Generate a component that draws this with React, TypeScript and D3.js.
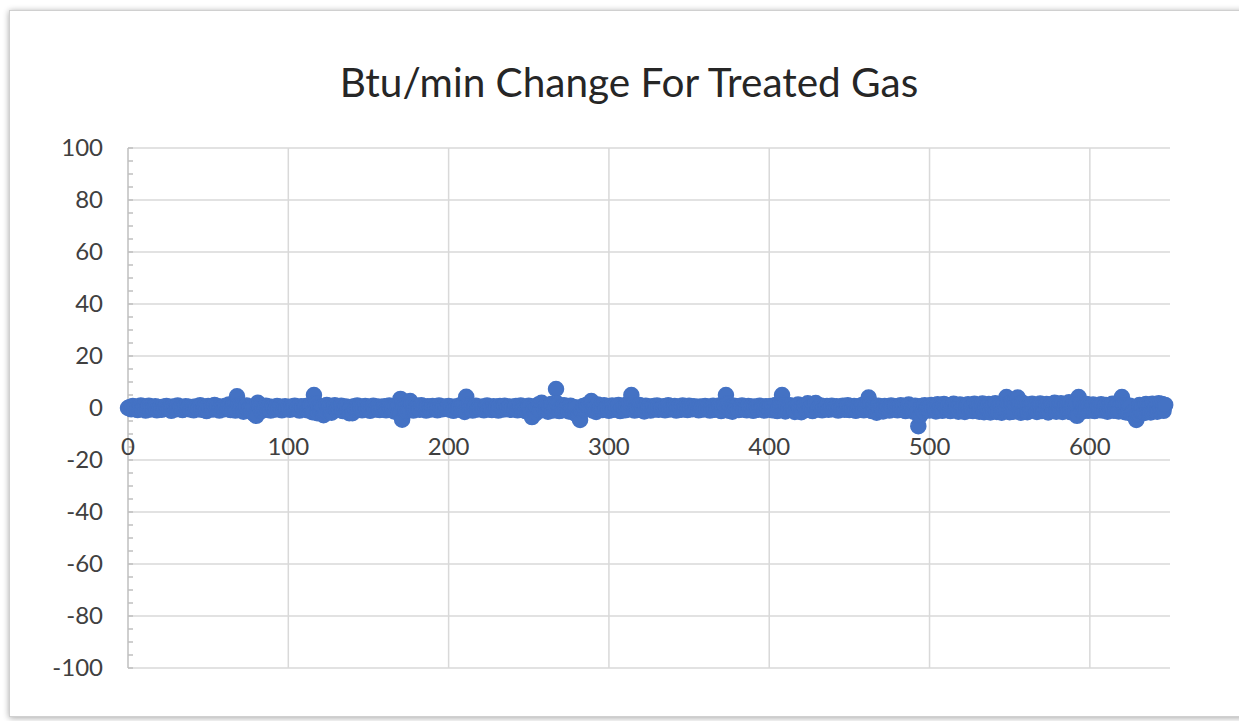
import React from "react";
import * as d3 from "d3";

const TITLE = "Btu/min Change For Treated Gas";
const X_TICKS = [0, 100, 200, 300, 400, 500, 600];
const Y_TICKS = [100, 80, 60, 40, 20, 0, -20, -40, -60, -80, -100];
const X_DOMAIN = [0, 650];
const Y_DOMAIN = [-100, 100];

// Btu/min change, one value per sample (x = index)
const VALUES: number[] = [
  0, 0.3, -0.5, 0.8, -0.2, 0.5, -0.8, 0.2, 1, -0.4, 0.6, -1, 0.3, 0.9, -0.6, 0.1, -0.3, 0.7, -0.9, 0.4,
  0.2, -0.7, 0.5, -0.1, 0.8, -0.4, 0.3, -1.1, 0.6, 0, -0.5, 1, -0.2, 0.4, -0.8, 0.1, 0.7, -0.3, 0.5, -0.6,
  0.3, -0.9, 0.6, 0.1, -0.4, 1.1, -0.7, 0.2, 0.5, -1.2, 0.8, -0.1, 0.4, -0.6, 1.2, -0.3, 0.7, -1, 0.5, 0.2,
  -0.5, 0.9, -0.2, 1.3, -0.8, 0.6, 1.5, -1, 4.5, 1.2, -0.6, 0.8, -1.4, 0.3, 1, -0.7, 0.4, -1.5, 0.2, -2.5,
  -3, 2, 1, -1.2, 0.5, -0.8, 0.9, -0.3, 0.6, -1, 0.4, 0.1, -0.6, 0.8, -0.2, 0.5, -0.9, 0.3, 0.7, -0.4,
  0.2, -0.7, 0.6, -0.1, 0.9, -0.5, 0.3, -1, 0.7, 0, -0.4, 0.8, -0.9, 0.5, 1, -1.6, 5, 1.8, -2, 0.6,
  -1, 0.4, -2.8, -1.5, 1.2, -0.6, 0.8, -1.8, 0.3, 1.1, -0.7, 0.5, -0.2, 0.9, -1.2, 0.4, 0.6, -0.8, -2, 0.2,
  -2, 0.7, -0.5, 1, -0.3, 0.6, -0.9, 0.2, 0.8, -0.4, 0.5, -1.1, 0.3, 0.9, -0.6, 0.1, 0.6, -0.8, 0.4, -0.2,
  0.7, -0.9, 0.3, 1, -0.5, 0.6, -1.3, 0.9, 1.2, -2, 3.5, -4.5, 0.5, -1.5, 1.4, -0.8, 2.7, 1.5, -1, 0.6,
  -0.4, 0.9, -0.7, 1.1, -0.2, 0.5, -1, 0.7, 0.2, -0.6, 0.8, -0.3, 0.4, -0.9, 1, 0.1, -0.5, 0.6, -0.2, 0.3,
  0.8, -0.7, 0.4, -1.1, 0.6, 0, -0.4, 1, -0.8, 1.6, -1.5, 4.3, 1.2, -0.5, 0.7, -1, 0.3, 0.9, -0.6, 0.2,
  -0.3, 0.6, -0.9, 0.4, 1, -0.5, 0.2, -0.8, 0.7, -0.1, 0.5, -1, 0.8, 0.3, -0.6, 0.9, -0.4, 0.1, 0.6, -0.7,
  0.4, -0.2, 0.8, -0.9, 0.3, 1, -0.6, 0.5, -1.2, 0.2, 0.9, -1.8, -3.5, 0.6, -2.2, 0.4, 1.3, -1, 2, 0.7,
  -0.8, 1.1, -1.4, 0.5, 1.5, -1, 0.8, 7.3, 1.6, -1.2, 0.4, -0.9, 1.1, -0.5, 0.6, -1.3, 0.9, -0.2, -1.8, 0.3,
  -2.5, -3.2, -4.6, -1, 0.8, -0.6, 1.2, 0.5, 1.8, 2.7, -1, 0.7, -1.5, 1.3, -0.4, 0.9, -0.8, 1.1, -0.2, 0.6,
  -1.1, 0.4, 1, -0.7, 0.8, -0.3, 1.2, -1.2, 0.5, 0.2, -0.9, 1.3, -0.6, 1.8, 5, 1.6, -1, 0.7, -0.4, 1.2,
  -0.8, 0.5, -1.3, 0.9, -0.2, 0.6, -1, 0.3, 0.8, -0.5, 1, -0.7, 0.4, -0.1, 0.7, -0.9, 0.5, 1.1, -0.6, 0.2,
  -0.4, 0.8, -1, 0.3, 0.6, -0.7, 1, -0.2, 0.5, -0.8, 0.9, 0.1, -0.5, 0.7, -0.3, 0.4, -0.9, 0.6, 0.2, -0.6,
  0.8, -0.4, 0.5, -1, 0.3, 0.9, -0.7, 0.6, -0.2, 1, -1.2, 0.7, 1.5, 5, 1.8, -1.1, 0.6, -1.4, 0.9, -0.3,
  0.7, -0.8, 0.4, 1, -0.6, 0.2, -0.9, 0.8, -0.3, 0.5, -1.1, 0.6, 0.1, -0.7, 0.9, -0.2, 0.4, -1, 0.7, 0.3,
  -0.5, 0.8, -0.9, 0.4, 1.2, -1.2, 0.6, 1.7, 5, 1.5, -1.3, 0.7, -0.6, 1.1, -0.4, 0.5, -1.5, 0.8, 1.3, -0.2,
  -1.6, 0.6, 0.9, -0.8, 1.8, -0.3, 0.4, -1.2, 0.7, 1.9, -0.6, 0.3, 1, -0.9, 0.5, -0.2, 0.8, -0.7, 0.4, 0.9,
  -0.5, 0.2, 0.7, -1, 0.5, -0.3, 0.9, -0.7, 0.4, 1.1, -0.8, 0.3, -0.4, 0.8, -1.1, 0.6, 0.1, -0.6, 1.2, -0.9,
  0.5, 1.6, 4, 1.3, -1.2, 0.7, -0.4, -1.8, 0.9, -0.6, 0.3, -1.3, 0.8, -0.2, 0.6, -1, 1, 0.2, -0.5, 0.7,
  -0.9, 0.4, 1.1, -0.3, 0.8, -1.2, 0.5, 1.3, -0.7, 0.2, -1.4, 0.9, -1.8, -7, -3, 0.8, -1.5, 1.1, -0.6, 0.5,
  -1, 1.2, -0.4, 0.7, -1.3, 1.4, -0.2, 0.9, -1.1, 1.5, 0.3, -0.8, 1.1, -1.2, 0.6, 1.6, -0.5, 0.8, -1.4, 1.3,
  -0.3, 1, -1.5, 0.7, 1.4, -0.9, 0.4, -1.2, 1.6, -0.6, 1.1, -1.4, 0.5, 1.7, -1.6, 0.9, -0.4, 1.5, -1.7, 1.2,
  -1, 1.8, -1.5, 0.8, 1.4, -1.8, 2, -1.2, 4.2, 1.5, -1.6, 2.2, -1.4, 1.8, 3.5, 4, 1.6, -1.8, 2, -1.3,
  1.4, -1.6, 0.9, -1.1, 1.6, -0.7, 1.2, -1.5, 0.8, 1.7, -1.2, 1, -0.6, 1.5, -1.7, 0.9, 1.3, -1, 2, -1.4,
  1.2, -0.8, 1.8, -1.5, 0.7, 1.4, -1.2, 2.2, -1.6, 1, -1.3, 1.8, -3, 4.2, 1.9, -1.4, 1.1, -0.9, 1.5, -1.1,
  0.8, -0.6, 1.3, -1.2, 0.5, 1, -0.8, 1.4, -1, 0.6, 1.2, -1.4, 0.9, -0.5, 1.6, -1.1, 0.7, 1.8, -1.3, 2,
  4.2, 1.5, -1.6, 1.1, -1.8, 0.9, -2.2, -1.4, -3.2, -4.6, -2.6, 1.2, -1.5, 0.8, -1.9, 1.5, -1.2, 1, -1.7, 1.6,
  -1, 1.3, -1.4, 1.8, -0.8, 1.5, -1.1, 1.2,
];

const W = 1239;
const H = 721;
const M = { left: 128, right: 1170, top: 148, bottom: 668 };
const FONT = "Lato, 'Open Sans', sans-serif";

export default function App() {
  const x = d3.scaleLinear().domain(X_DOMAIN).range([M.left, M.right]);
  const y = d3.scaleLinear().domain(Y_DOMAIN).range([M.bottom, M.top]);
  const minor = d3.range(Y_DOMAIN[0], Y_DOMAIN[1] + 0.001, 5);
  const data = VALUES.map((v, i) => ({ x: i, y: v }));

  return (
    <div style={{ position: "absolute", left: 0, top: 0 }}>
      <svg width={W} height={H} style={{ display: "block" }}>
        <defs>
          <filter id="sh" x="-5%" y="-5%" width="110%" height="110%">
            <feGaussianBlur in="SourceAlpha" stdDeviation="3" />
            <feOffset dx="0" dy="1" result="b" />
            <feComponentTransfer>
              <feFuncA type="linear" slope="0.35" />
            </feComponentTransfer>
            <feMerge>
              <feMergeNode />
              <feMergeNode in="SourceGraphic" />
            </feMerge>
          </filter>
        </defs>
        <rect x={0} y={0} width={W} height={H} fill="#ffffff" />
        <rect x={9.5} y={10.5} width={1320} height={706} fill="#ffffff" stroke="#d0d0d0" strokeWidth={1} filter="url(#sh)" />
        <text x={629} y={97} textAnchor="middle" fontFamily={FONT} fontSize={40.5} fill="#262626">
          {TITLE}
        </text>
        {/* horizontal gridlines */}
        {Y_TICKS.map((t) => (
          <line key={"hy" + t} x1={M.left} x2={M.right} y1={y(t)} y2={y(t)} stroke="#d9d9d9" strokeWidth={1.5} />
        ))}
        {/* vertical gridlines */}
        {X_TICKS.filter((t) => t > 0).map((t) => (
          <line key={"vx" + t} x1={x(t)} x2={x(t)} y1={M.top} y2={M.bottom} stroke="#d9d9d9" strokeWidth={1.5} />
        ))}
        {/* y axis */}
        <line x1={M.left} x2={M.left} y1={M.top} y2={M.bottom} stroke="#bfbfbf" strokeWidth={1.5} />
        {minor.map((t) => (
          <line key={"mt" + t} x1={M.left} x2={M.left + 5} y1={y(t)} y2={y(t)} stroke="#bfbfbf" strokeWidth={1.5} />
        ))}
        {/* x axis at y=0 */}
        <line x1={M.left} x2={M.right} y1={y(0)} y2={y(0)} stroke="#bfbfbf" strokeWidth={1.5} />
        {Y_TICKS.map((t) => (
          <text key={"yl" + t} x={103} y={y(t)} dy="0.35em" textAnchor="end" fontFamily={FONT} fontSize={24} fill="#404040">
            {t}
          </text>
        ))}
        {/* markers */}
        {data.map((d) => (
          <circle key={"p" + d.x} cx={x(d.x)} cy={y(d.y)} r={7.5} fill="#4472C4" stroke="#4472C4" strokeWidth={1.5} />
        ))}
        {X_TICKS.map((t) => (
          <text key={"xl" + t} x={x(t)} y={y(0) + 39} dy="0.35em" textAnchor="middle" fontFamily={FONT} fontSize={24} fill="#404040">
            {t}
          </text>
        ))}
      </svg>
    </div>
  );
}
